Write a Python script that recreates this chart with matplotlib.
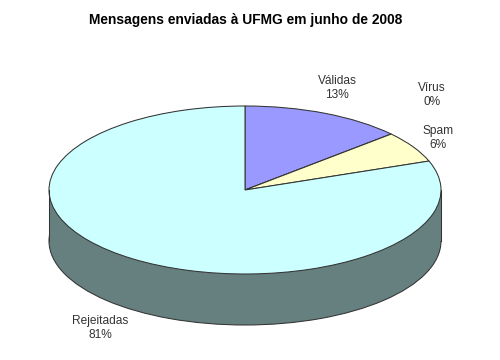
import matplotlib
matplotlib.use('Agg')
import matplotlib.pyplot as plt
from matplotlib.patches import Rectangle

plt.rcParams['font.family'] = ['Liberation Sans', 'DejaVu Sans']

# Data
categories = ['Válidas', 'Vírus', 'Spam', 'Rejeitadas']
values = [13.4, 0.0, 6.0, 80.6]
colors = ['#9999FF', '#993366', '#FFFFCC', '#CCFFFF']
title = 'Mensagens enviadas à UFMG em junho de 2008'

# pie geometry in pixels
cx, cy = 245, 190
rx, ry = 196, 84
depth = 51
edge = '#333333'

fig = plt.figure(figsize=(5, 3.6), dpi=100)
ax = fig.add_axes([0, 0, 1, 1])

# side of the disc, then the top
d = depth / ry
ax.pie([1], colors=['#668080'], center=(0, -d), radius=1, startangle=0,
       wedgeprops={'edgecolor': edge, 'linewidth': 0.75})
ax.add_patch(Rectangle((-1, -d), 2, d, facecolor='#668080', edgecolor='none'))
ax.plot([-1, -1], [0, -d], color=edge, lw=0.75)
ax.plot([1, 1], [0, -d], color=edge, lw=0.75)
ax.pie(values, colors=colors, startangle=90, counterclock=False,
       wedgeprops={'edgecolor': edge, 'linewidth': 0.75})

ax.set_aspect('auto')
ax.set_xlim((0 - cx) / rx, (500 - cx) / rx)
ax.set_ylim((cy - 360) / ry, cy / ry)
ax.axis('off')

# labels, placed in figure pixels
label_pos = [(337, 88), (432, 95), (438, 138), (100, 328)]
for name, val, (x, y) in zip(categories, values, label_pos):
    fig.text(x / 500, 1 - y / 360, f'{name}\n{val:.0f}%', ha='center', va='center',
             fontsize=8.6, color='#333333', linespacing=1.25)

fig.text(246 / 500, 1 - 20 / 360, title, ha='center', va='center',
         fontsize=9.9, fontweight='bold', color='black')

fig.savefig('out.png', dpi=100, facecolor='white')
